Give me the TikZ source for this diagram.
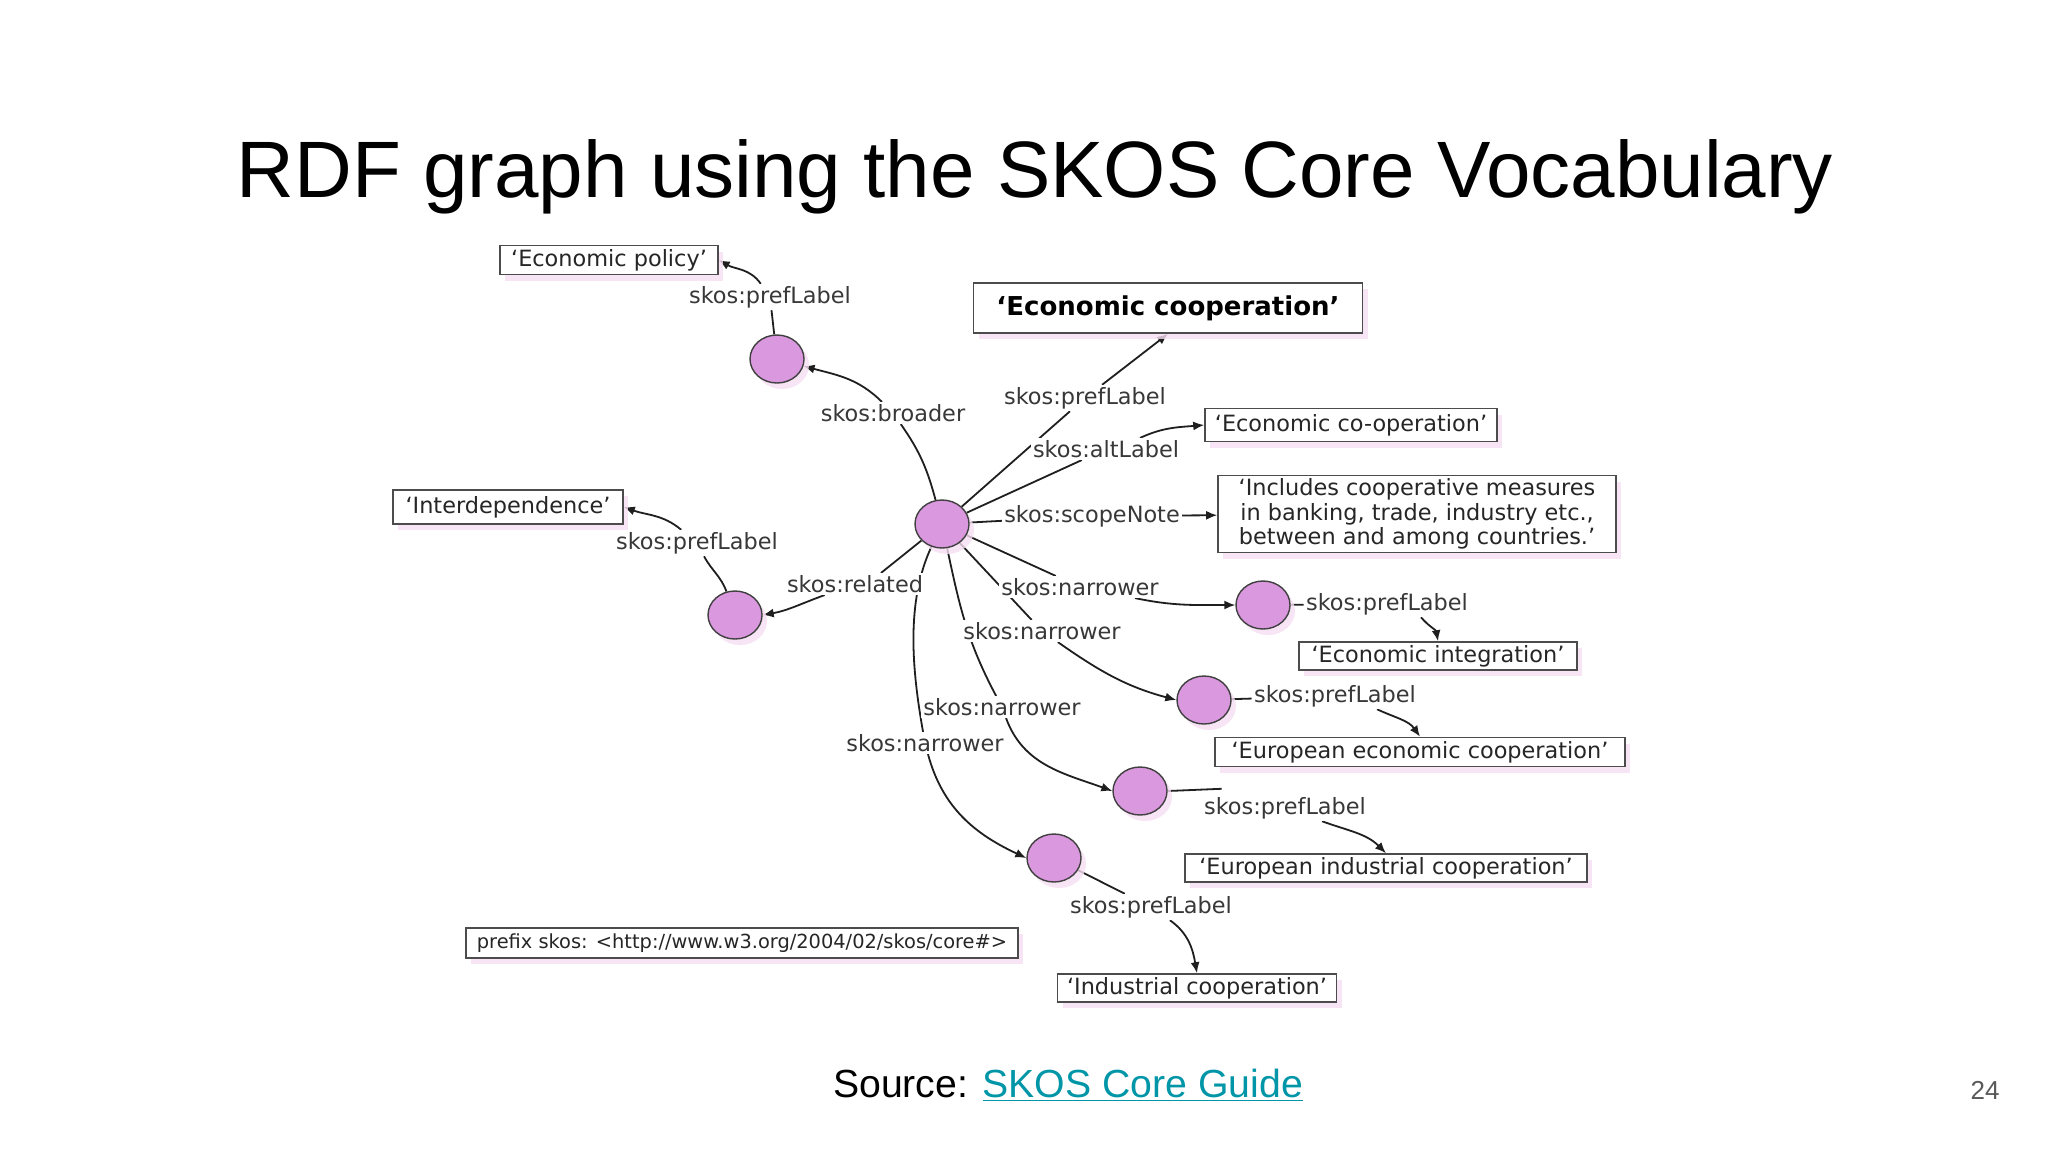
\documentclass[tikz,border=0pt]{standalone}
\usepackage{fontspec}
\setmainfont{Liberation Sans}
\newfontfamily\dvsans{DejaVu Sans}
\usetikzlibrary{shapes.geometric,arrows.meta,calc,shadows,backgrounds}
\definecolor{circfill}{RGB}{218,152,222}
\definecolor{linkteal}{RGB}{0,150,167}
\definecolor{shpink}{RGB}{246,222,242}
\newcommand\skosfont{\dvsans\fontsize{11.2}{13.5}\selectfont}
\tikzset{
  pinkshadow/.style={drop shadow={shadow xshift=2.5pt,shadow yshift=-3pt,fill=shpink,opacity=0.8}},
  concept/.style={ellipse,draw=black!75,line width=0.7pt,fill=circfill,minimum width=27pt,minimum height=24pt,inner sep=0pt,pinkshadow},
  lit/.style={rectangle,draw=black!70,line width=0.8pt,fill=white,font=\skosfont,text=black!85,inner sep=0pt,pinkshadow},
  prop/.style={rectangle,fill=white,font=\skosfont,text=black!78,inner sep=1pt},
  edge/.style={line width=0.9pt,draw=black!88},
  arr/.style={edge,-{Latex[length=5.5pt,width=4.5pt]}}
}
\begin{document}
\begin{tikzpicture}[x=0.5pt,y=0.5pt]
\useasboundingbox (0,0) rectangle (2048,-1152);

% title and footer
\node[anchor=base,font=\fontsize{40}{46}\selectfont] (title) at (1035,-197) {RDF graph using the SKOS Core Vocabulary};
\node[anchor=base,font=\fontsize{19.6}{23}\selectfont] (src) at (1068,-1097) {Source: \textcolor{linkteal}{\underline{SKOS Core Guide}}};
\node[anchor=base,font=\fontsize{13}{15}\selectfont,text=black!65] (pg) at (1985,-1099) {24};

% literal boxes
\node[lit,minimum width=109pt,minimum height=14.5pt] (pol) at (609,-260) {‘Economic policy’};
\node[lit,minimum width=194.5pt,minimum height=25pt,font=\dvsans\bfseries\fontsize{13}{15}\selectfont,text=black] (ec) at (1168,-308) {‘Economic cooperation’};
\node[lit,minimum width=146pt,minimum height=16.5pt] (alt) at (1351,-425) {‘Economic co-operation’};
\node[lit,minimum width=199pt,minimum height=38.5pt,align=center,font=\dvsans\fontsize{11.2}{12.4}\selectfont] (scope) at (1417,-514) {‘Includes cooperative measures\\in banking, trade, industry etc.,\\between and among countries.’};
\node[lit,minimum width=115pt,minimum height=17pt] (inter) at (508,-507) {‘Interdependence’};
\node[lit,minimum width=139pt,minimum height=14pt] (ei) at (1438,-656) {‘Economic integration’};
\node[lit,minimum width=205pt,minimum height=14.5pt] (eec) at (1420,-752) {‘European economic cooperation’};
\node[lit,minimum width=201pt,minimum height=14pt] (eic) at (1386,-868) {‘European industrial cooperation’};
\node[lit,minimum width=139.5pt,minimum height=14pt] (ic) at (1197,-988) {‘Industrial cooperation’};
\node[lit,minimum width=276pt,minimum height=15pt,font=\dvsans\fontsize{9.7}{11}\selectfont] (prefix) at (742,-943) {prefix skos: <http://www.w3.org/2004/02/skos/core\#>};

% concepts
\node[concept] (A) at (777,-359) {};
\node[concept] (C) at (942,-524) {};
\node[concept] (R) at (735,-615) {};
\node[concept] (N1) at (1263,-605) {};
\node[concept] (N2) at (1204,-700) {};
\node[concept] (N3) at (1140,-791) {};
\node[concept] (N4) at (1054,-858) {};

% property labels
\node[prop] (lppol) at (770,-297) {skos:prefLabel};
\node[prop] (lbroader) at (893,-413) {skos:broader};
\node[prop] (lpec) at (1085,-398) {skos:prefLabel};
\node[prop] (lalt) at (1106,-449) {skos:altLabel};
\node[prop] (lscope) at (1092,-516) {skos:scopeNote};
\node[prop] (lrel) at (855,-584) {skos:related};
\node[prop] (lpinter) at (697,-543) {skos:prefLabel};
\node[prop] (ln1) at (1080,-587) {skos:narrower};
\node[prop] (ln2) at (1042,-631) {skos:narrower};
\node[prop] (ln3) at (1002,-707) {skos:narrower};
\node[prop] (ln4) at (925,-743) {skos:narrower};
\node[prop] (lp1) at (1387,-604) {skos:prefLabel};
\node[prop] (lp2) at (1335,-696) {skos:prefLabel};
\node[prop] (lp3) at (1285,-808) {skos:prefLabel};
\node[prop] (lp4) at (1151,-907) {skos:prefLabel};

\begin{pgfonlayer}{background}
\fill[white] (0,0) rectangle (2048,-1152);
% broader
\draw[edge] (C) to[out=105,in=-55] (lbroader);
\draw[arr] (lbroader) to[out=135,in=-15] (A);
\draw[edge] (A) -- (lppol);
\draw[arr] (lppol) to[out=125,in=-30] (pol.east);
% prefLabel of C
\draw[edge] (C) -- (lpec);
\draw[arr] (lpec) -- (ec.south);
% altLabel
\draw[edge] (C) -- (lalt);
\draw[arr] ($(lalt.north)+(34,0)$) to[out=25,in=185] (alt.west);
% scopeNote
\draw[edge] (C) -- (lscope);
\draw[arr] (lscope) -- (scope);
% related
\draw[edge] (C) -- ($(lrel.north)+(26,0)$);
\draw[arr] (lrel) to[out=-160,in=10] (R.east);
\draw[edge] (R) to[out=110,in=-62] (lpinter);
\draw[arr] (lpinter) to[out=140,in=-20] (inter.east);
% narrower 1
\draw[edge] (C) -- (ln1);
\draw[arr] ($(ln1.south)+(55,0)$) to[out=-12,in=180] (N1.west);
\draw[edge] (N1) -- (lp1);
\draw[arr] ($(lp1.south)+(34,0)$) to[out=-50,in=100] (ei.north);
% narrower 2
\draw[edge] (C) -- (ln2);
\draw[arr] (ln2) to[out=-35,in=165] (N2.west);
\draw[edge] (N2) -- (lp2);
\draw[arr] ($(lp2.south)+(42,0)$) to[out=-25,in=125] (eec.north);
% narrower 3
\draw[edge] (C) to[out=-78,in=118] (ln3);
\draw[arr] (ln3) to[out=-70,in=160] (N3.west);
\draw[edge] (N3.east) -- ($(lp3.north west)+(20,6)$);
\draw[arr] ($(lp3.south)+(37,0)$) to[out=-20,in=135] (eic.north);
% narrower 4
\draw[edge] (C) to[out=-115,in=100,looseness=0.85] (ln4);
\draw[arr] (ln4) to[out=-75,in=155] (N4.west);
\draw[edge] (N4) -- (lp4);
\draw[arr] (lp4) to[out=-35,in=100] (ic.north);
\end{pgfonlayer}
\end{tikzpicture}
\end{document}
